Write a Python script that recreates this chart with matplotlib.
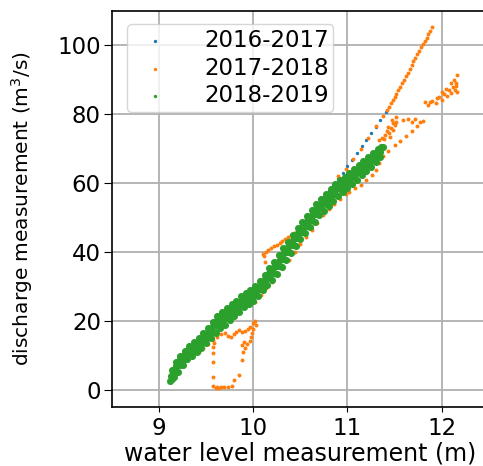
import matplotlib
matplotlib.use("Agg")
import matplotlib.pyplot as plt

# ---------------- data ----------------
labels = ["2016-2017", "2017-2018", "2018-2019"]
colors = ["#1f77b4", "#ff7f0e", "#2ca02c"]

# 2016-2017 (blue)
blue_x = [9.35, 9.5, 9.7, 9.9, 10.1, 10.3, 10.5, 10.6, 10.65, 10.7, 10.75, 10.8,
          10.85, 10.9, 10.95, 11.0, 11.05, 11.1, 11.15, 11.2, 11.25, 11.3, 11.35, 11.41]
blue_y = [10.1, 14.5, 20.5, 26.0, 31.5, 38.5, 46.0, 50.5, 52.3, 54.2, 56.0, 57.8,
          59.5, 61.2, 63.0, 65.0, 66.9, 68.8, 70.7, 72.6, 74.5, 76.4, 78.3, 80.6]

# 2017-2018 (orange)
or_up_x = [10.1, 10.3, 10.5, 10.7, 10.9, 10.98, 11.06, 11.14, 11.22, 11.3, 11.38, 11.42,
           11.46, 11.5, 11.54, 11.58, 11.62, 11.66, 11.7, 11.74, 11.78, 11.82, 11.86, 11.9,
           11.44, 11.48, 11.52, 11.56, 11.6, 11.64, 11.68, 11.72, 11.76, 11.8, 11.84, 11.88]
or_up_y = [30.0, 38.5, 46.5, 54.0, 62.0, 64.2, 67.0, 70.0, 73.2, 76.5, 79.6, 81.3,
           83.2, 85.1, 87.0, 89.0, 91.0, 93.2, 95.5, 97.5, 99.5, 101.4, 103.3, 105.3,
           82.2, 84.1, 86.0, 88.0, 90.0, 92.1, 94.3, 96.5, 98.5, 100.4, 102.3, 104.3]
or_lo_x = [10.02, 10.08, 10.14, 10.2, 10.26, 10.32, 10.38, 10.44, 10.5, 10.56, 10.62,
           10.68, 10.74, 10.8, 10.86, 10.92, 10.98, 11.02, 11.08, 11.14, 11.2, 11.26,
           11.3, 11.34, 11.38, 11.43, 11.5, 11.56, 11.62, 11.68, 11.74, 11.8,
           10.82, 10.87, 10.92, 10.97]
or_lo_y = [25.5, 27.5, 29.5, 31.5, 33.5, 35.5, 37.8, 40.0, 42.5, 44.5, 46.5,
           48.5, 50.8, 52.5, 54.0, 55.5, 57.0, 57.5, 58.5, 59.5, 61.0, 62.5,
           64.0, 66.0, 68.0, 69.5, 71.0, 72.2, 73.8, 75.3, 76.6, 78.2,
           58.5, 60.0, 61.2, 62.0]
or_cl_x = [11.34, 11.37, 11.4, 11.42, 11.44, 11.46, 11.48, 11.5, 11.52, 11.45, 11.39,
           11.59, 11.64, 11.72, 11.77, 11.68, 11.48, 11.43, 11.47, 11.51,
           11.82, 11.86, 11.9, 11.94, 11.97, 12.0, 12.03, 12.06, 12.08, 12.1, 12.12,
           12.14, 12.15, 12.13, 12.16, 12.15, 12.05, 12.0, 11.95, 11.88, 12.16, 12.1]
or_cl_y = [72.5, 73.2, 74.0, 75.2, 74.5, 76.0, 75.5, 77.0, 77.8, 73.5, 72.8,
           78.3, 78.6, 78.8, 77.7, 77.7, 77.4, 76.3, 78.5, 79.3,
           83.5, 82.8, 84.0, 83.2, 85.0, 84.3, 86.0, 85.2, 87.0, 86.2, 88.0,
           87.2, 89.0, 90.0, 91.5, 88.2, 87.5, 86.5, 84.8, 83.6, 86.5, 89.2]
or_br_x = [10.1, 10.13, 10.16, 10.19, 10.22, 10.25, 10.28, 10.31, 10.34, 10.37, 10.4,
           10.43, 10.46, 10.12, 10.11]
or_br_y = [39.6, 40.0, 40.6, 41.1, 41.7, 42.2, 42.8, 43.3, 43.9, 44.4, 45.0,
           45.5, 46.0, 37.3, 39.0]
or_lp_x = [9.42, 9.47, 9.52, 9.57, 9.62, 9.66, 9.7, 9.73, 9.76, 9.79, 9.82, 9.85, 9.88,
           9.91, 9.94, 9.97, 10.0, 10.02, 10.03, 10.0, 9.99, 9.98, 9.96, 9.93, 9.9,
           9.88, 9.91, 9.89, 9.88, 9.85, 9.8, 9.77, 9.73, 9.69, 9.66, 9.64, 9.62,
           9.6, 9.57, 9.57, 9.57, 9.57, 9.57, 9.58]
or_lp_y = [11.0, 12.3, 13.5, 14.6, 15.3, 16.2, 16.5, 15.8, 15.3, 16.2, 16.8, 17.4, 16.8,
           17.2, 17.6, 18.4, 19.5, 20.0, 19.0, 17.8, 16.5, 15.5, 14.2, 13.5, 14.0,
           13.0, 12.2, 11.2, 8.7, 4.3, 2.9, 1.2, 1.0, 1.0, 0.8, 0.5, 1.0,
           0.7, 1.3, 3.9, 8.2, 10.9, 12.6, 13.8]

orange_x = or_up_x + or_lo_x + or_cl_x + or_br_x + or_lp_x
orange_y = or_up_y + or_lo_y + or_cl_y + or_br_y + or_lp_y

# 2018-2019 (green)
gr_c_x = [9.13, 9.16, 9.2, 9.25, 9.3, 9.35, 9.4, 9.45, 9.5, 9.55, 9.6, 9.65, 9.7, 9.75,
          9.8, 9.85, 9.9, 9.95, 10.0, 10.05, 10.1, 10.15, 10.2, 10.25, 10.3, 10.35,
          10.4, 10.45, 10.5, 10.55, 10.6, 10.65, 10.7, 10.75, 10.8, 10.85, 10.9,
          10.95, 11.0, 11.05, 11.1, 11.15, 11.2, 11.25, 11.3, 11.35, 11.38]
gr_c_y = [4.0, 5.5, 7.5, 9.5, 11.0, 12.0, 13.0, 14.3, 15.8, 17.3, 19.0, 20.0, 21.0, 22.3,
          23.5, 24.8, 26.0, 27.0, 27.8, 29.3, 31.0, 32.6, 34.0, 36.0, 38.0, 40.0,
          42.0, 44.0, 46.0, 47.6, 49.3, 51.1, 52.9, 54.2, 55.5, 57.0, 58.5,
          59.5, 60.5, 61.7, 63.0, 64.2, 65.4, 66.6, 67.8, 69.2, 70.5]
gr_u_x = [9.14, 9.18, 9.22, 9.27, 9.32, 9.37, 9.42, 9.47, 9.52, 9.57, 9.62, 9.67, 9.72,
          9.77, 9.82, 9.87, 9.92, 9.97, 10.02, 10.07, 10.12, 10.17, 10.22, 10.27, 10.32,
          10.37, 10.42, 10.47, 10.52, 10.57, 10.62, 10.67, 10.72, 10.77, 10.82, 10.87,
          10.92, 10.97, 11.02, 11.07, 11.12, 11.17, 11.22, 11.27, 11.32]
gr_u_y = [5.8, 8.2, 9.8, 11.3, 12.9, 14.0, 15.1, 16.5, 18.0, 19.7, 21.5, 22.8, 23.9,
          24.9, 26.0, 27.3, 28.3, 29.1, 30.1, 31.7, 33.5, 35.3, 37.1, 39.1, 41.1,
          43.1, 45.1, 47.1, 48.7, 50.4, 52.2, 54.0, 55.5, 56.8, 58.3, 59.7,
          60.9, 61.9, 63.0, 64.2, 65.4, 66.6, 67.7, 68.9, 70.1]
gr_l_x = [9.12, 9.16, 9.2, 9.25, 9.3, 9.35, 9.4, 9.45, 9.5, 9.55, 9.6, 9.65, 9.7, 9.75,
          9.8, 9.85, 9.9, 9.95, 10.0, 10.05, 10.1, 10.15, 10.2, 10.25, 10.3, 10.35,
          10.4, 10.45, 10.5, 10.55, 10.6, 10.65, 10.7, 10.75, 10.8, 10.85, 10.9,
          10.95, 11.0, 11.05, 11.1, 11.15, 11.2, 11.25, 11.3, 11.35]
gr_l_y = [2.6, 3.7, 5.4, 7.4, 9.0, 10.0, 11.0, 12.3, 13.7, 15.1, 16.7, 17.9, 19.0, 20.3,
          21.5, 22.8, 24.0, 25.0, 25.9, 27.3, 29.0, 30.5, 31.9, 33.8, 35.8, 37.8,
          39.8, 41.8, 43.8, 45.5, 47.2, 48.9, 50.7, 52.1, 53.4, 54.9, 56.4,
          57.5, 58.5, 59.8, 61.1, 62.4, 63.6, 64.8, 66.1, 67.5]
gr_a_x = [9.15, 9.18, 9.22, 9.27, 9.32, 9.37, 9.42, 9.47, 9.52, 9.57, 9.62, 9.67, 9.72,
          9.77, 9.82, 9.87, 9.92, 9.97, 10.02, 10.07, 10.12, 10.17, 10.22, 10.27, 10.32,
          10.37, 10.42, 10.47, 10.52, 10.57, 10.62, 10.67, 10.72, 10.77, 10.82, 10.87,
          10.92, 10.97, 11.02, 11.07, 11.12, 11.17, 11.22, 11.27, 11.32, 11.36]
gr_a_y = [5.3, 6.9, 8.9, 10.6, 12.0, 13.0, 14.1, 15.5, 17.0, 18.5, 20.2, 21.2, 22.3,
          23.5, 24.7, 25.9, 27.1, 28.0, 28.9, 30.5, 32.2, 33.9, 35.6, 37.6, 39.6,
          41.6, 43.6, 45.6, 47.4, 49.0, 50.8, 52.6, 54.2, 55.5, 57.0, 58.5,
          59.8, 60.8, 61.9, 63.1, 64.4, 65.6, 66.8, 68.0, 69.3, 70.4]
gr_b_x = [9.14, 9.18, 9.22, 9.27, 9.32, 9.37, 9.42, 9.47, 9.52, 9.57, 9.62, 9.67, 9.72,
          9.77, 9.82, 9.87, 9.92, 9.97, 10.02, 10.07, 10.12, 10.17, 10.22, 10.27, 10.32,
          10.37, 10.42, 10.47, 10.52, 10.57, 10.62, 10.67, 10.72, 10.77, 10.82, 10.87,
          10.92, 10.97, 11.02, 11.07, 11.12, 11.17, 11.22, 11.27, 11.32]
gr_b_y = [3.2, 5.4, 7.2, 9.0, 10.6, 11.6, 12.6, 14.0, 15.5, 17.0, 18.6, 19.6, 20.8,
          22.0, 23.2, 24.5, 25.7, 26.6, 27.7, 29.2, 30.9, 32.4, 34.1, 36.1, 38.1,
          40.1, 42.1, 44.1, 45.9, 47.6, 49.3, 51.1, 52.7, 54.0, 55.5, 57.0,
          58.3, 59.4, 60.6, 61.9, 63.2, 64.4, 65.6, 66.8, 68.2]
green_x = gr_c_x + gr_u_x + gr_l_x + gr_a_x + gr_b_x
green_y = gr_c_y + gr_u_y + gr_l_y + gr_a_y + gr_b_y

x_ticks = [9, 10, 11, 12]
y_ticks = [0, 20, 40, 60, 80, 100]

# ---------------- figure ----------------
fig = plt.figure(figsize=(4.83, 4.66), dpi=100)
ax = fig.add_axes([0.2319, 0.1266, 0.780, 0.8498])

ax.scatter(blue_x, blue_y, s=6, color=colors[0], label=labels[0], zorder=2, linewidths=0)
ax.scatter(orange_x, orange_y, s=8, color=colors[1], label=labels[1], zorder=3, linewidths=0)
ax.scatter(green_x, green_y, s=26, color=colors[2], label=labels[2], zorder=4, linewidths=0)

ax.set_xlim(8.5, 12.5)
ax.set_ylim(-4.9, 110)
ax.set_xticks(x_ticks)
ax.set_yticks(y_ticks)
ax.grid(True, color="#b0b0b0", linewidth=1.3)
ax.set_axisbelow(True)
ax.tick_params(axis="both", labelsize=16.5)
ax.tick_params(axis="y", length=6, pad=2)
for sp in ax.spines.values():
    sp.set_linewidth(1.2)

ax.set_xlabel("water level measurement (m)", fontsize=17, labelpad=1)
ax.set_ylabel("discharge measurement (m$^3$/s)", fontsize=14.5)
ax.yaxis.set_label_coords(-0.205, 0.5)

leg = ax.legend(loc="upper left", fontsize=16.5, markerscale=1.0, handletextpad=1.15,
                borderaxespad=0.5, borderpad=0.2, labelspacing=0.2, handlelength=2.0,
                bbox_to_anchor=(0.01, 0.995))
for h in leg.legend_handles:
    h.set_sizes([6])

fig.savefig("out.png", dpi=100)
